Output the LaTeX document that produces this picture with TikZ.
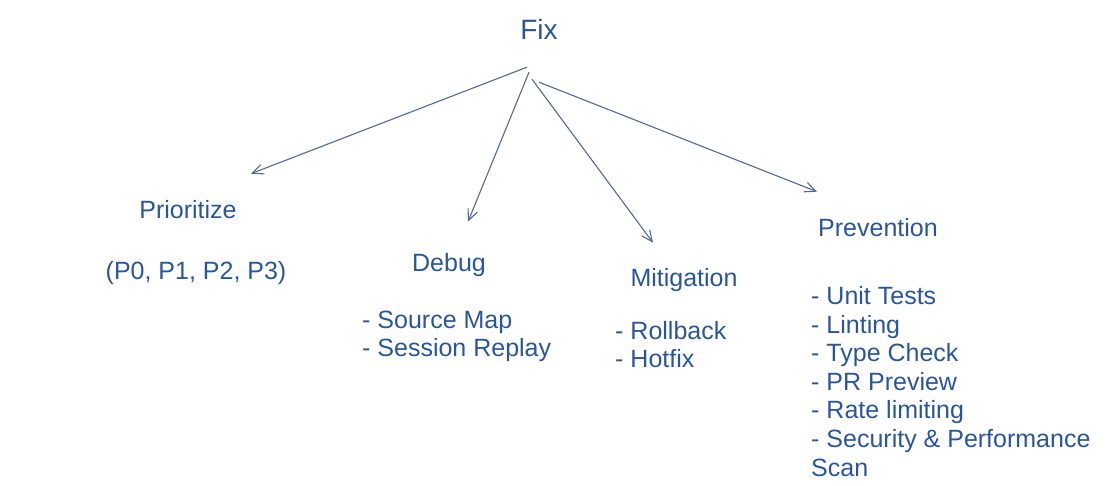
\documentclass[tikz,border=0pt]{standalone}
\usepackage{fontspec}
\setmainfont{Liberation Sans}
\usetikzlibrary{arrows.meta}
\definecolor{inkblue}{RGB}{42,86,152}
\definecolor{penblue}{RGB}{84,104,148}

\begin{document}
\begin{tikzpicture}[x=1pt, y=-1pt,
    txt/.style={text=inkblue, inner sep=0pt, font=\fontsize{25}{28.6}\selectfont},
    arr/.style={draw=penblue, line width=1.1pt, -{Straight Barb[length=11pt, width=10pt]}}]
        \useasboundingbox (0,0) rectangle (1109,486);
        % Fix and its four branches
        \node[txt, anchor=base, font=\fontsize{28}{32}\selectfont] (fix) at (539,40) {Fix};
        \node[txt, anchor=base] (prio) at (188,219) {Prioritize};
        \node[txt, anchor=base] (prioli) at (196,280) {(P0, P1, P2, P3)};
        \node[txt, anchor=base] (debug) at (449,272) {Debug};
        \node[txt, anchor=base west, align=left] (debugli) at (362,357) {- Source Map\\- Session Replay};
        \node[txt, anchor=base] (mitig) at (684,287) {Mitigation};
        \node[txt, anchor=base west, align=left] (mitigli) at (615,368) {- Rollback\\- Hotfix};
        \node[txt, anchor=base] (prev) at (878,237) {Prevention};
        \node[txt, anchor=base west, align=left] (prevli) at (811,476) {- Unit Tests\\- Linting\\- Type Check\\- PR Preview\\- Rate limiting\\- Security \& Performance\\Scan};

        \draw[arr] ([xshift=-12pt, yshift=-27pt]fix.south) -- ([xshift=63pt, yshift=27pt]prio.north);
        \draw[arr] ([xshift=-10pt, yshift=-32pt]fix.south) -- ([xshift=19pt, yshift=32pt]debug.north);
        \draw[arr] ([xshift=-7pt, yshift=-39pt]fix.south) -- ([xshift=-31pt, yshift=26pt]mitig.north);
        \draw[arr] ([xshift=0pt, yshift=-42pt]fix.south) -- ([xshift=-61pt, yshift=27pt]prev.north);
    \end{tikzpicture}
\end{document}
